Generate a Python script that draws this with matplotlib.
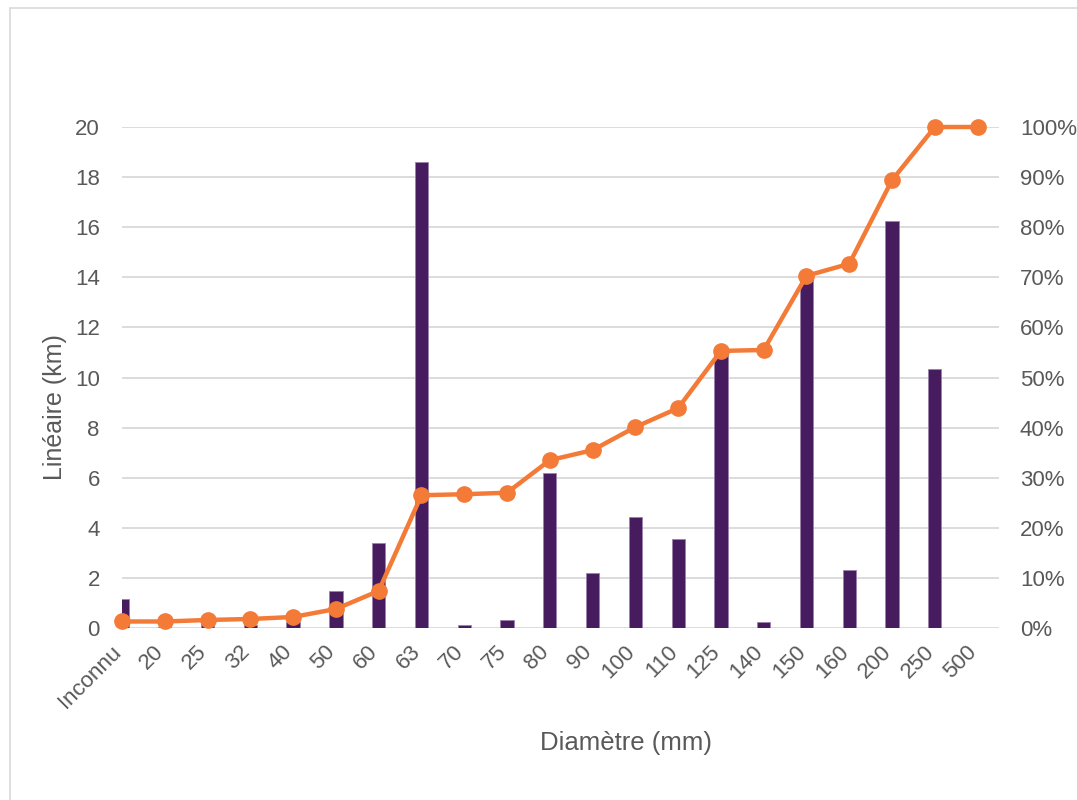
import matplotlib.pyplot as plt
from matplotlib.patches import Rectangle
from matplotlib.ticker import PercentFormatter
from matplotlib.transforms import ScaledTranslation

plt.rcParams['font.family'] = ['Liberation Sans', 'DejaVu Sans']

# Data
diametres = ["Inconnu", "20", "25", "32", "40", "50", "60", "63", "70", "75", "80",
             "90", "100", "110", "125", "140", "150", "160", "200", "250", "500"]
lineaire_km = [1.16, 0.05, 0.15, 0.1, 0.25, 1.48, 3.39, 18.6, 0.1, 0.32, 6.19,
               2.2, 4.43, 3.55, 10.95, 0.24, 13.95, 2.3, 16.25, 10.34, 0.0]
cumul_pct = [1.3, 1.3, 1.6, 1.8, 2.2, 3.8, 7.4, 26.5, 26.7, 27.0, 33.5,
             35.5, 40.1, 43.9, 55.3, 55.5, 70.3, 72.7, 89.4, 100.0, 100.0]

bar_color = "#461C5E"
line_color = "#F47A38"
text_color = "#595959"
grid_color = "#D9D9D9"

fig = plt.figure(figsize=(10.77, 8), dpi=100)
# outer chart border (cut off at right and bottom)
fig.patches.append(Rectangle((10 / 1077, -0.05), 1.1, 1 - 8 / 800 + 0.05,
                             transform=fig.transFigure, fill=False,
                             edgecolor=grid_color, linewidth=1.2))

ax = fig.add_axes([122 / 1077, 1 - 628 / 800, 877 / 1077, 501 / 800])
x = range(len(diametres))
ax.bar(x, lineaire_km, width=0.31, color=bar_color, edgecolor="#9B82AE",
       linewidth=0.6, zorder=2)
ax.set_xlim(0, 20.5)
ax.set_ylim(0, 20)
ax.set_yticks(range(0, 21, 2))
ax.grid(axis="y", color=grid_color, linewidth=1.3, zorder=0)
ax.set_axisbelow(True)
for s in ax.spines.values():
    s.set_visible(False)
ax.tick_params(length=0, labelsize=16, labelcolor=text_color, pad=16)
ax.set_xticks(list(x))
ax.set_xticklabels(diametres, rotation=45, ha="right", va="center",
                   rotation_mode="anchor")
ax.tick_params(axis="x", pad=15)
shift = ScaledTranslation(-4 / 100, 0, fig.dpi_scale_trans)
for lab in ax.get_xticklabels():
    lab.set_transform(lab.get_transform() + shift)
ax.set_ylabel("Linéaire (km)", fontsize=18, color=text_color)
ax.yaxis.set_label_coords((55 - 122) / 877, (628 - 407) / 501)
ax.set_xlabel("Diamètre (mm)", fontsize=18.5, color=text_color)
ax.xaxis.set_label_coords((626 - 122) / 877, -(743 - 628) / 501)
ax.xaxis.label.set_va("center")
ax.yaxis.label.set_va("center")

ax2 = ax.twinx()
ax2.plot(x, cumul_pct, color=line_color, linewidth=3.2, marker="o",
         markersize=11, zorder=3, clip_on=False)
ax2.set_ylim(0, 100)
ax2.set_yticks(range(0, 101, 10))
ax2.yaxis.set_major_formatter(PercentFormatter(decimals=0))
for s in ax2.spines.values():
    s.set_visible(False)
ax2.tick_params(length=0, labelsize=16, labelcolor=text_color, pad=15)

fig.savefig("out.png", dpi=100)
